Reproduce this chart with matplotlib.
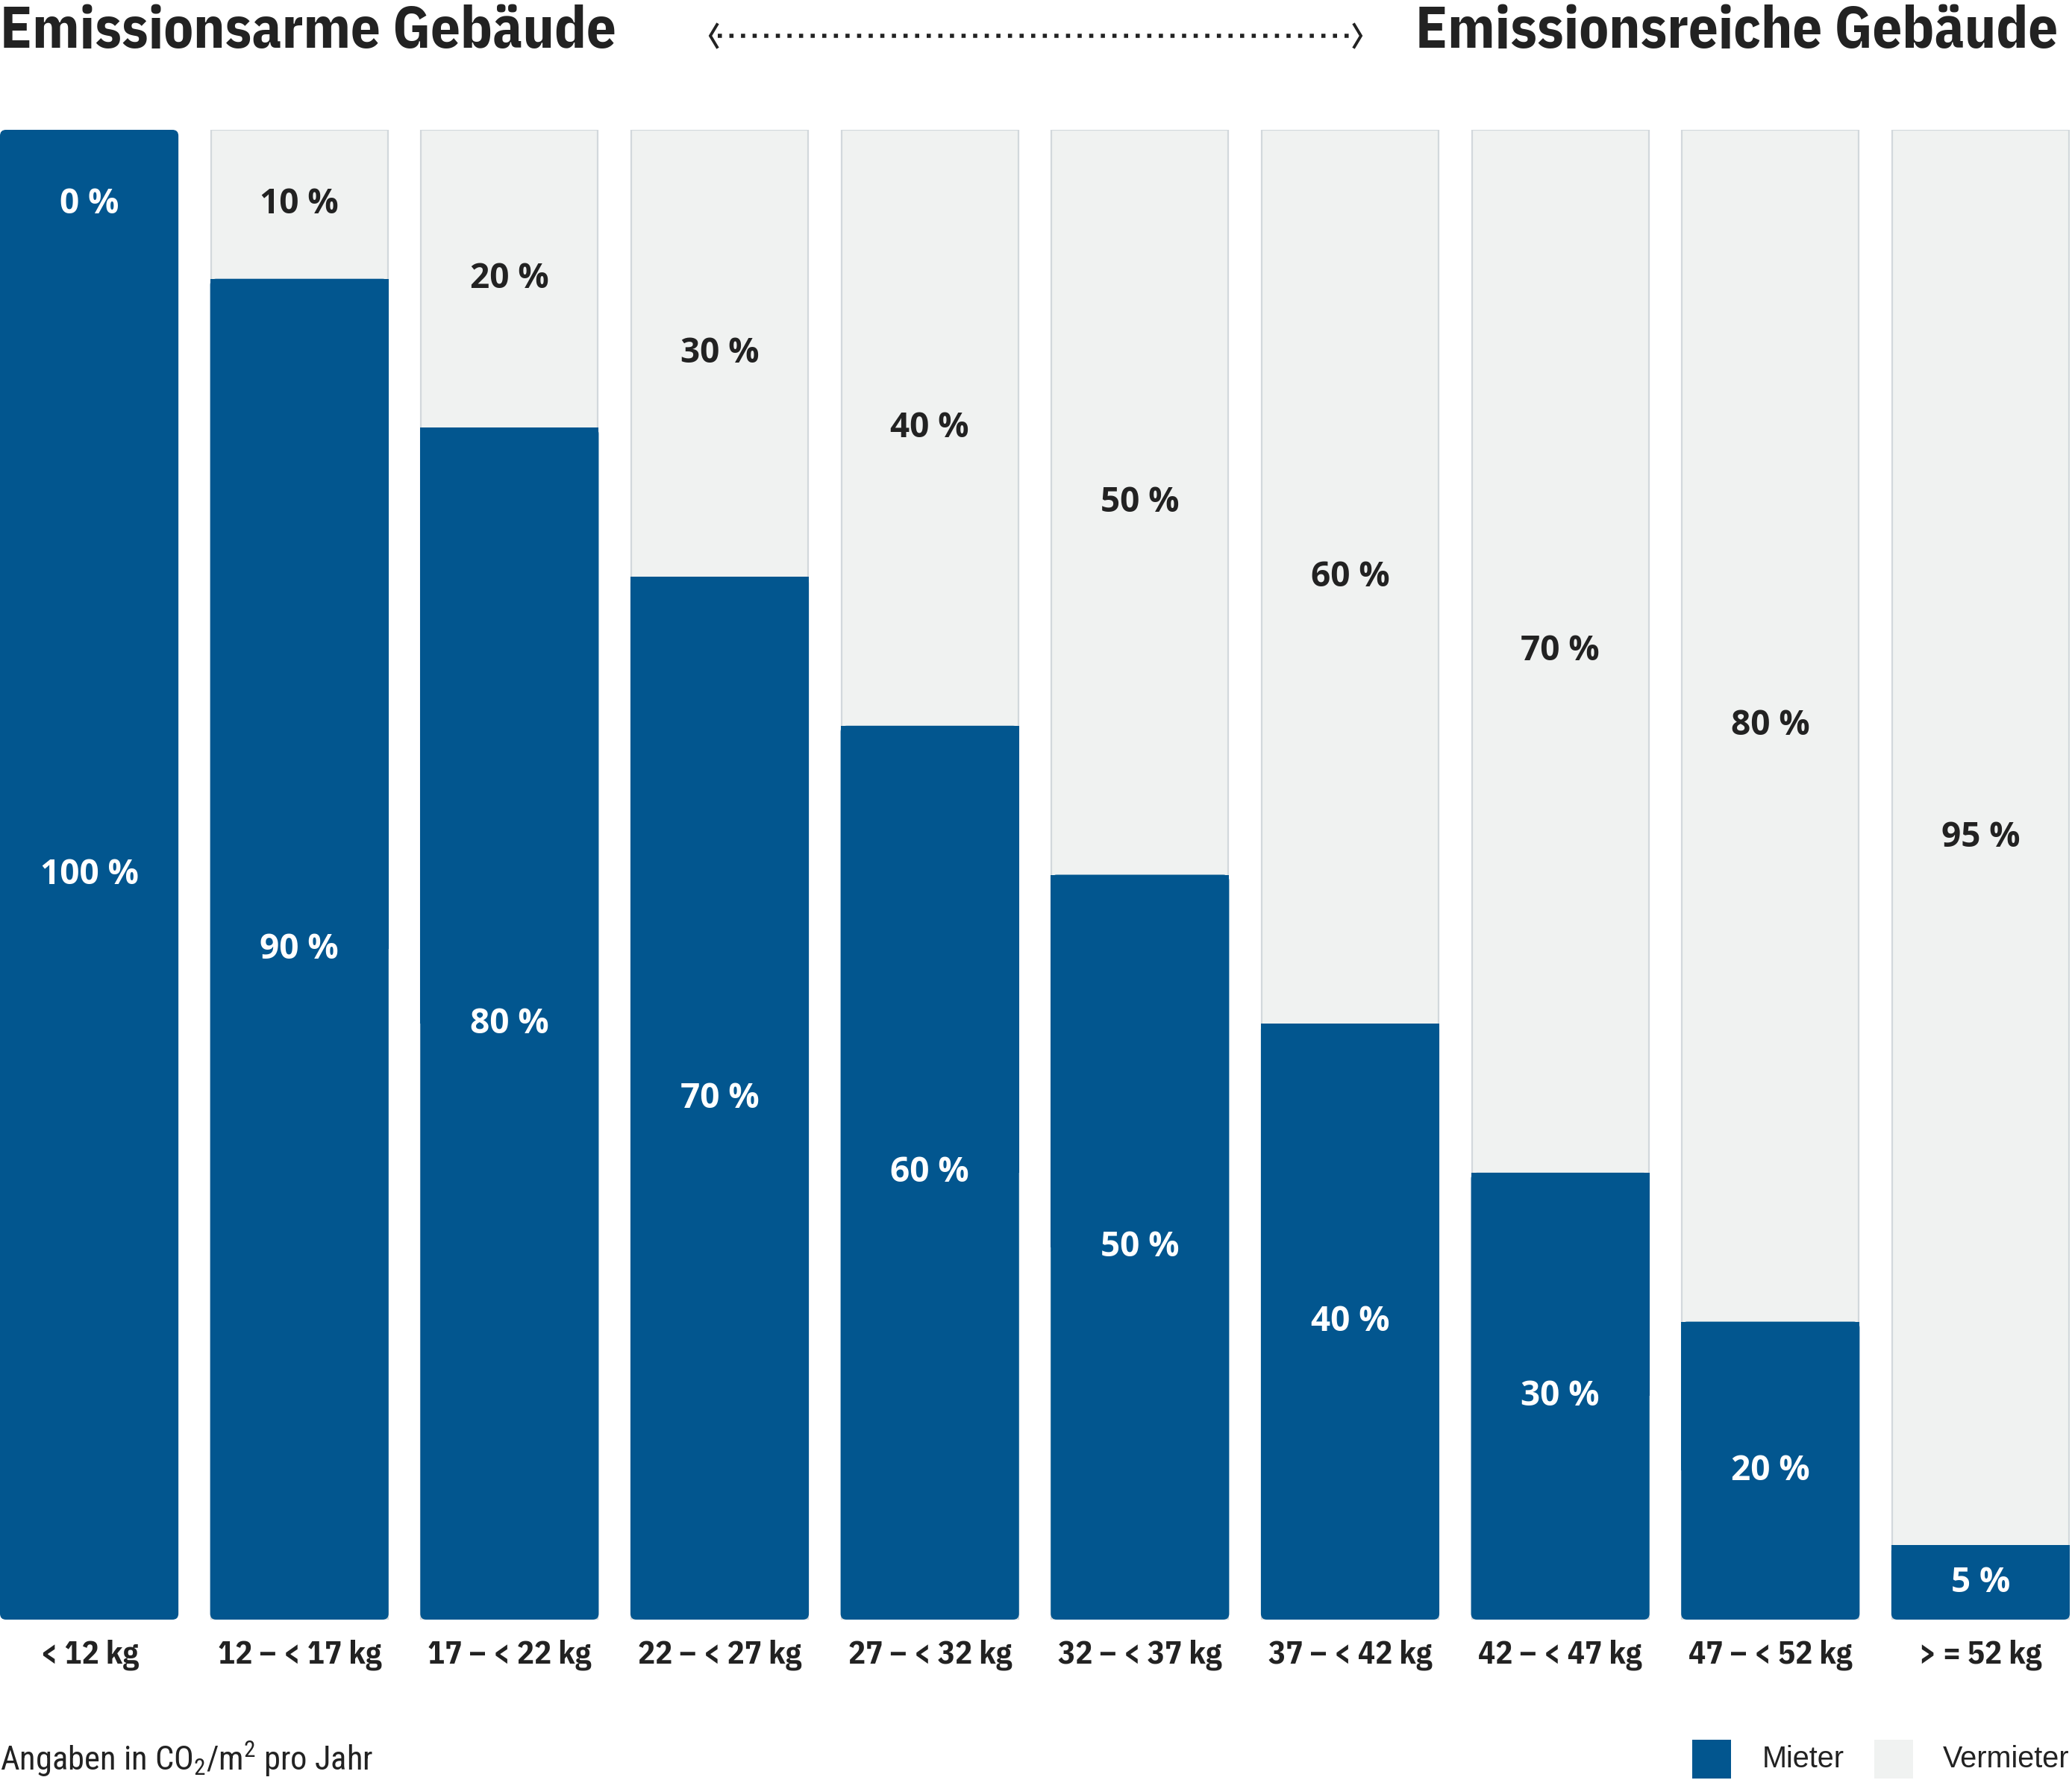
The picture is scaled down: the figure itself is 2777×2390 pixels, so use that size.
import numpy as np
import matplotlib as mpl
mpl.use("Agg")
from matplotlib import pyplot as plt
from matplotlib.patches import Rectangle, FancyBboxPatch

# - data
categories = ["< 12 kg", "12 – < 17 kg", "17 – < 22 kg", "22 – < 27 kg", "27 – < 32 kg",
              "32 – < 37 kg", "37 – < 42 kg", "42 – < 47 kg", "47 – < 52 kg", "> = 52 kg"]
mieter = [100, 90, 80, 70, 60, 50, 40, 30, 20, 5]
vermieter = [0, 10, 20, 30, 40, 50, 60, 70, 80, 95]
series_names = ["Mieter", "Vermieter"]

BLUE = "#02568f"
GREY = "#f0f2f1"
EDGE = "#d2d8dc"
DARK = "#222222"

plt.rcParams["mathtext.default"] = "regular"
COND = ["IBM Plex Sans Condensed", "Open Sans Condensed", "DejaVu Sans"]
BOLD = ["Open Sans", "DejaVu Sans"]
NARROW = ["Roboto Condensed", "Archivo Narrow", "PT Sans Narrow", "Liberation Sans"]
PLAIN = ["Liberation Sans", "DejaVu Sans"]

W, H = 2777, 2390
fig = plt.figure(figsize=(W / 100, H / 100), dpi=100)

# bars area in pixels: left 0, right 2774, top 174, bottom 2171
ax = fig.add_axes([0, (H - 2171) / H, 2774 / W, (2171 - 174) / H])
bw = 0.849
x = np.arange(len(categories))
ax.set_xlim(-bw / 2, x[-1] + bw / 2)
ax.set_ylim(0, 100)
ax.axis("off")

px_x = 2774 / (x[-1] + bw)      # pixels per x unit
px_y = (2171 - 174) / 100       # pixels per y unit
r = 8 / px_x                    # corner radius in x units
aspect = px_x / px_y

for i, (m, v) in enumerate(zip(mieter, vermieter)):
    # -- vermieter part (full background bar with border)
    if v > 0:
        ax.add_patch(Rectangle((i - bw / 2 + 0.004, 0), bw - 0.008, 100,
                               facecolor=GREY, edgecolor=EDGE, linewidth=1.6, zorder=1))
    # -- mieter part, rounded corners
    ax.add_patch(FancyBboxPatch((i - bw / 2, 0), bw, m,
                                boxstyle=f"round,pad=0,rounding_size={r}",
                                mutation_aspect=aspect,
                                facecolor=BLUE, edgecolor="none", zorder=2))
    if m < 100:
        ax.add_patch(Rectangle((i - bw / 2, m / 2), bw, m / 2,
                               facecolor=BLUE, edgecolor="none", zorder=2))
    # -- labels
    ax.text(i, m / 2, f"{m} %", ha="center", va="center", color="white",
            fontsize=33, fontweight="bold", family=BOLD, zorder=3)
    if v > 0:
        ax.text(i, m + v / 2, f"{v} %", ha="center", va="center", color=DARK,
                fontsize=33, fontweight="bold", family=BOLD, zorder=3)
    else:
        ax.text(i, 95, f"{v} %", ha="center", va="center", color="white",
                fontsize=33, fontweight="bold", family=BOLD, zorder=3)
    ax.text(i, -2.35, categories[i], ha="center", va="center", color=DARK,
            fontsize=31, fontweight="bold", family=COND, clip_on=False)

# - overlay in pixel coords for header and footer
ov = fig.add_axes([0, 0, 1, 1], zorder=5)
ov.set_xlim(0, W)
ov.set_ylim(H, 0)
ov.axis("off")

ov.text(0, 43, "Emissionsarme Gebäude", ha="left", va="center", color=DARK,
        fontsize=56.5, fontweight="bold", family=COND)
ov.text(2758, 43, "Emissionsreiche Gebäude", ha="right", va="center", color=DARK,
        fontsize=56.5, fontweight="bold", family=COND)

# dotted double arrow
ov.plot([962, 1814], [48, 48], color=DARK, linewidth=4.0,
        linestyle=(0, (1.0, 1.8)), solid_capstyle="butt", dash_capstyle="butt")
ov.plot([961, 952, 961], [33, 48, 63], color=DARK, linewidth=2.8,
        solid_joinstyle="miter")
ov.plot([1815, 1824, 1815], [33, 48, 63], color=DARK, linewidth=2.8,
        solid_joinstyle="miter")

ov.text(0, 2358, "Angaben in CO$_2$/m$^2$ pro Jahr", ha="left", va="center",
        color=DARK, fontsize=32, family=NARROW)

# legend
for (x0, name, col, tx) in [(2268, series_names[0], BLUE, 2362),
                            (2512, series_names[1], GREY, 2604)]:
    ov.add_patch(Rectangle((x0, 2332), 52, 52, facecolor=col, edgecolor="none"))
    ov.text(tx, 2358, name, ha="left", va="center", color=DARK,
            fontsize=28.5, family=PLAIN)

fig.savefig("out.png", dpi=100, facecolor="white")
plt.close()
